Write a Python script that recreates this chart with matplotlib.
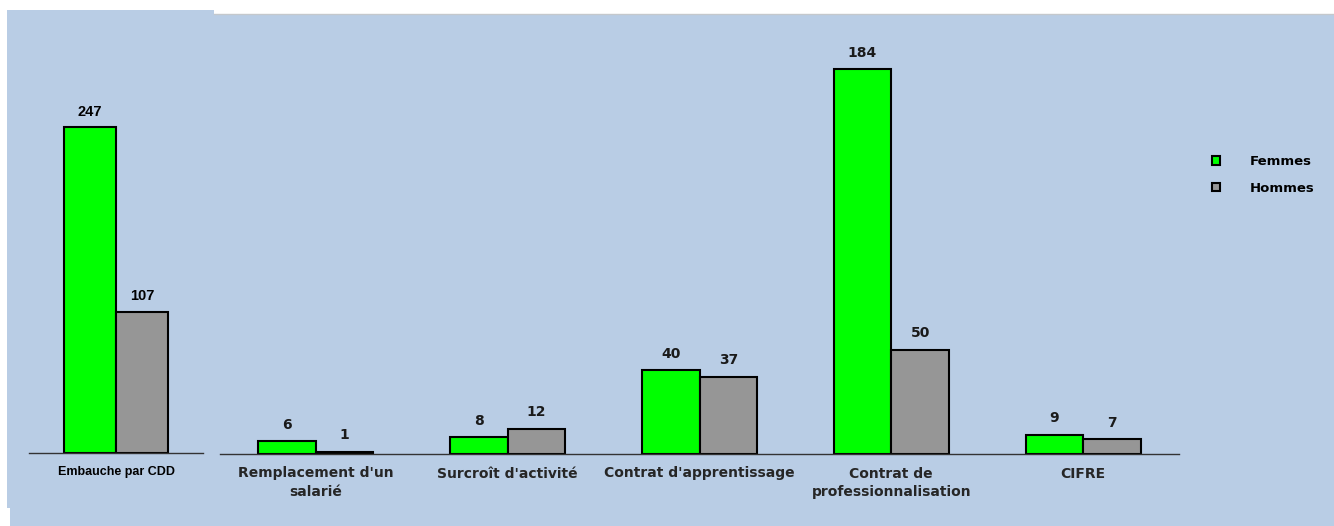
import matplotlib.pyplot as plt
import matplotlib.patches as mpatches
import numpy as np

plt.rcParams['font.family'] = ['Liberation Sans', 'DejaVu Sans']

# data
cdd_label = ["Embauche par CDD"]
cdd_femmes = [247]
cdd_hommes = [107]

categories = ["Remplacement d'un\nsalarié", "Surcroît d'activité",
              "Contrat d'apprentissage", "Contrat de\nprofessionnalisation", "CIFRE"]
femmes = [6, 8, 40, 184, 9]
hommes = [1, 12, 37, 50, 7]

green = "#00FF00"
grey = "#969696"
bg = "#B9CDE5"

W, H = 1334, 526
fig = plt.figure(figsize=(W / 100, H / 100), dpi=100)
fig.patch.set_facecolor("white")

def box(x0, y0, x1, y1):
    # pixel coords (top-left origin) -> figure fraction
    return [x0 / W, 1 - y1 / H, (x1 - x0) / W, (y1 - y0) / H]

# background panels
for (x0, y0, x1, y1) in [(7, 10, 214, 508), (10, 14, W, H)]:
    b = box(x0, y0, x1, y1)
    fig.patches.append(mpatches.Rectangle((b[0], b[1]), b[2], b[3],
                                          transform=fig.transFigure,
                                          facecolor=bg, edgecolor="none", zorder=-5))
fig.add_artist(plt.Line2D([214 / W, 1], [1 - 13.5 / H] * 2, color="#C4C8CC", lw=1, zorder=-4))

def style(ax):
    ax.set_facecolor("none")
    for s in ["top", "right", "left"]:
        ax.spines[s].set_visible(False)
    ax.spines["bottom"].set_color("#333333")
    ax.spines["bottom"].set_linewidth(1)
    ax.set_yticks([])
    ax.tick_params(axis="x", length=0)

bw = 0.3

# left chart
ax1 = fig.add_axes(box(29, 10, 203, 453))
style(ax1)
x = np.arange(len(cdd_label))
b1 = ax1.bar(x - bw / 2, cdd_femmes, bw, color=green, edgecolor="black", linewidth=1.5)
b2 = ax1.bar(x + bw / 2, cdd_hommes, bw, color=grey, edgecolor="black", linewidth=1.5)
ax1.set_xlim(-0.5, 0.5)
ax1.set_ylim(0, 443 / 1.32)
ax1.set_xticks(x)
ax1.set_xticklabels(cdd_label, fontsize=9, fontweight="bold")
ax1.tick_params(axis="x", pad=9)
for bars in (b1, b2):
    for r in bars:
        ax1.annotate(str(int(r.get_height())), (r.get_x() + r.get_width() / 2, r.get_height()),
                     xytext=(0, 6), textcoords="offset points", ha="center", va="bottom",
                     fontsize=10.5, fontweight="bold")

# right chart
ax2 = fig.add_axes(box(220, 14, 1179, 454))
style(ax2)
x = np.arange(len(categories))
r1 = ax2.bar(x - bw / 2, femmes, bw, color=green, edgecolor="black", linewidth=1.5, label="Femmes")
r2 = ax2.bar(x + bw / 2, hommes, bw, color=grey, edgecolor="black", linewidth=1.5, label="Hommes")
ax2.set_xlim(-0.5, len(categories) - 0.5)
ax2.set_ylim(0, 440 / 2.09)
ax2.set_xticks(x)
ax2.set_xticklabels(categories, fontsize=10, fontweight="bold", color="#262626",
                    linespacing=1.45, family="DejaVu Sans")
ax2.tick_params(axis="x", pad=9)
for bars in (r1, r2):
    for r in bars:
        ax2.annotate(str(int(r.get_height())), (r.get_x() + r.get_width() / 2, r.get_height()),
                     xytext=(0, 7), textcoords="offset points", ha="center", va="bottom",
                     fontsize=10, fontweight="bold", color="#1a1a1a", family="DejaVu Sans")

# legend
hl = [mpatches.Patch(facecolor=green, edgecolor="black", linewidth=1.5),
      mpatches.Patch(facecolor=grey, edgecolor="black", linewidth=1.5)]
leg = fig.legend(hl, ["Femmes", "Hommes"], loc="center left",
                 bbox_to_anchor=(1200 / W, 1 - 175 / H), frameon=False,
                 handlelength=0.65, handleheight=0.65, handletextpad=2.2,
                 labelspacing=1.0, prop={"size": 9.5, "weight": "bold", "family": "DejaVu Sans"})

fig.savefig("out.png", dpi=100, facecolor=fig.get_facecolor())
